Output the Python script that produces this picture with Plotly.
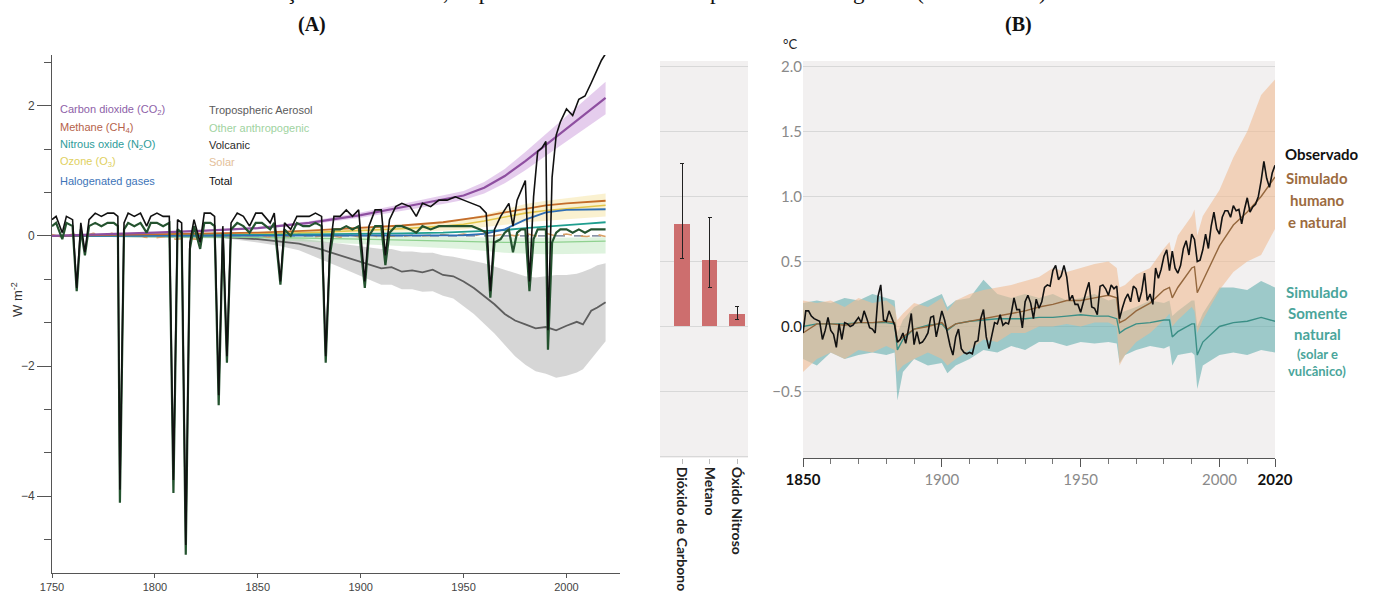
import plotly.graph_objects as go

W, H = 1377, 592
def fx(p): return p / W
def fy(p): return 1 - p / H

# ---------------- Panel A : forcing (W m-2) ----------------
yrs_f = [1750, 1775, 1800, 1825, 1850, 1875, 1900, 1920, 1940, 1950, 1960, 1970, 1980, 1990, 2000, 2010, 2019]
co2    = [0, 0.02, 0.05, 0.08, 0.12, 0.20, 0.32, 0.44, 0.56, 0.62, 0.74, 0.92, 1.15, 1.40, 1.64, 1.90, 2.12]
co2_lo = [0, 0.018, 0.044, 0.07, 0.105, 0.176, 0.28, 0.39, 0.49, 0.55, 0.65, 0.81, 1.01, 1.23, 1.44, 1.67, 1.87]
co2_hi = [0, 0.022, 0.056, 0.09, 0.135, 0.224, 0.36, 0.49, 0.63, 0.69, 0.83, 1.03, 1.29, 1.57, 1.84, 2.13, 2.37]
ch4    = [0, 0.01, 0.02, 0.03, 0.05, 0.08, 0.12, 0.16, 0.21, 0.25, 0.30, 0.36, 0.42, 0.47, 0.50, 0.52, 0.54]
n2o    = [0, 0, 0.005, 0.01, 0.015, 0.02, 0.03, 0.04, 0.05, 0.06, 0.07, 0.09, 0.12, 0.14, 0.16, 0.19, 0.21]
o3     = [0, 0.005, 0.01, 0.02, 0.03, 0.05, 0.08, 0.11, 0.15, 0.18, 0.23, 0.29, 0.35, 0.39, 0.42, 0.45, 0.47]
o3_lo  = [0, 0, 0.005, 0.01, 0.015, 0.03, 0.05, 0.06, 0.08, 0.10, 0.13, 0.17, 0.21, 0.24, 0.26, 0.28, 0.30]
o3_hi  = [0, 0.01, 0.015, 0.03, 0.045, 0.07, 0.11, 0.16, 0.22, 0.26, 0.33, 0.41, 0.49, 0.54, 0.58, 0.62, 0.65]
halo   = [0, 0, 0, 0, 0, 0, 0, 0, 0.005, 0.01, 0.03, 0.10, 0.25, 0.36, 0.40, 0.41, 0.41]

yrs_oth = [1750, 1850, 1900, 1950, 1970, 1990, 2019]
oth    = [0, -0.02, -0.05, -0.08, -0.10, -0.10, -0.08]
oth_hi = [0, 0, -0.01, -0.02, -0.03, -0.03, -0.02]
oth_lo = [0, -0.05, -0.12, -0.20, -0.26, -0.28, -0.27]

yrs_aer = [1750, 1800, 1830, 1850, 1860, 1870, 1880, 1890, 1900, 1905, 1910, 1915, 1920, 1925, 1930, 1935, 1940,
           1945, 1950, 1955, 1960, 1965, 1970, 1975, 1980, 1985, 1990, 1995, 2000, 2005, 2008, 2012, 2015, 2019]
aer    = [0, 0, -0.01, -0.05, -0.08, -0.12, -0.20, -0.30, -0.40, -0.44, -0.50, -0.48, -0.55, -0.53, -0.56, -0.52, -0.60,
          -0.62, -0.70, -0.80, -0.92, -1.05, -1.20, -1.30, -1.36, -1.42, -1.40, -1.45, -1.38, -1.32, -1.36, -1.15, -1.10, -1.02]
aer_hi = [0, 0, 0, -0.01, -0.02, -0.04, -0.08, -0.12, -0.16, -0.18, -0.20, -0.20, -0.24, -0.24, -0.26, -0.26, -0.30,
          -0.32, -0.35, -0.38, -0.42, -0.47, -0.52, -0.58, -0.62, -0.64, -0.62, -0.60, -0.60, -0.58, -0.55, -0.50, -0.45, -0.42]
aer_lo = [0, 0, -0.02, -0.10, -0.15, -0.22, -0.35, -0.48, -0.62, -0.68, -0.75, -0.75, -0.82, -0.82, -0.86, -0.85, -0.92,
          -0.96, -1.08, -1.20, -1.35, -1.50, -1.68, -1.85, -1.98, -2.08, -2.12, -2.18, -2.15, -2.10, -2.05, -1.90, -1.78, -1.62]

yrs_sol = [1750, 1755, 1760, 1765, 1770, 1775, 1780, 1785, 1790, 1795, 1800, 1805, 1810, 1815, 1820, 1825, 1830, 1835,
           1840, 1845, 1850, 1855, 1860, 1865, 1870, 1875, 1880, 1885, 1890, 1895, 1900, 1905, 1910, 1915, 1920, 1925,
           1930, 1935, 1940, 1945, 1950, 1955, 1960, 1965, 1970, 1975, 1980, 1985, 1990, 1995, 2000, 2005, 2010, 2015, 2019]
solar = [0.02, -0.02, 0.03, -0.01, 0.04, 0.0, 0.05, 0.02, 0.04, -0.02, -0.03, -0.01, -0.05, -0.04, -0.05, -0.02, 0.02, -0.01,
         0.03, 0.0, 0.02, -0.02, 0.02, -0.01, 0.03, -0.02, 0.0, 0.01, -0.02, 0.01, -0.02, 0.01, -0.02, 0.0, -0.01, 0.01,
         0.0, 0.01, 0.02, 0.0, 0.03, 0.0, 0.04, 0.0, 0.03, 0.0, 0.04, 0.0, 0.04, 0.0, 0.03, 0.0, -0.01, 0.02, -0.01]

yrs_v = [1750, 1752, 1755, 1757, 1760, 1762, 1764, 1766, 1768, 1771, 1774, 1777, 1780, 1782, 1783, 1785, 1787, 1790,
         1793, 1796, 1798, 1801, 1804, 1807, 1809, 1811, 1813, 1815, 1817, 1819, 1822, 1824, 1827, 1829, 1831, 1833,
         1835, 1837, 1840, 1843, 1846, 1849, 1852, 1856, 1858, 1861, 1863, 1866, 1869, 1872, 1875, 1878, 1881, 1883,
         1885, 1887, 1890, 1893, 1896, 1899, 1902, 1904, 1907, 1910, 1912, 1914, 1917, 1920, 1924, 1927, 1930, 1934,
         1938, 1942, 1946, 1950, 1954, 1958, 1961, 1963, 1965, 1968, 1970, 1972, 1974, 1976, 1978, 1980, 1982, 1984,
         1986, 1988, 1990, 1991, 1992, 1993, 1995, 1997, 2000, 2003, 2006, 2009, 2012, 2015, 2017, 2019]
volc = [0.15, 0.20, -0.05, 0.20, 0.15, -0.85, 0.10, -0.30, 0.15, 0.20, 0.15, 0.20, 0.20, 0.15, -4.10, 0.10, 0.20, 0.15,
        0.20, 0.05, 0.20, 0.20, 0.15, 0.20, -3.95, 0.10, 0.05, -4.90, -0.20, 0.15, -0.20, 0.20, 0.20, 0.15, -2.60, 0.05,
        -1.95, 0.10, 0.20, 0.15, 0.05, 0.20, 0.20, 0.10, 0.20, -0.75, 0.10, 0.0, 0.20, 0.15, 0.15, 0.20, 0.15, -1.95,
        -0.30, 0.10, 0.10, 0.15, 0.10, 0.15, -0.80, 0.0, 0.15, 0.15, -0.45, 0.05, 0.15, 0.15, 0.10, 0.05, 0.15, 0.10,
        0.15, 0.15, 0.15, 0.15, 0.15, 0.10, 0.05, -0.95, -0.10, -0.05, 0.05, 0.10, -0.25, 0.05, 0.10, 0.10, -0.85, -0.05,
        0.10, 0.10, 0.10, -1.75, -0.80, -0.10, 0.05, 0.10, 0.10, 0.05, 0.10, 0.05, 0.10, 0.10, 0.10, 0.10]
total = [0.25, 0.30, 0.05, 0.30, 0.25, -0.80, 0.20, -0.25, 0.25, 0.35, 0.30, 0.35, 0.35, 0.30, -3.90, 0.20, 0.35, 0.30,
         0.35, 0.15, 0.30, 0.35, 0.30, 0.30, -3.75, 0.25, 0.20, -4.75, -0.10, 0.25, -0.10, 0.35, 0.35, 0.30, -2.45, 0.15,
         -1.85, 0.20, 0.35, 0.30, 0.15, 0.35, 0.35, 0.20, 0.35, -0.70, 0.20, 0.10, 0.30, 0.30, 0.30, 0.35, 0.30, -1.85,
         -0.20, 0.30, 0.30, 0.40, 0.30, 0.40, -0.70, 0.15, 0.40, 0.40, -0.30, 0.25, 0.45, 0.50, 0.45, 0.30, 0.50, 0.45,
         0.55, 0.55, 0.60, 0.55, 0.50, 0.45, 0.35, -0.85, 0.10, 0.30, 0.40, 0.50, 0.15, 0.55, 0.70, 0.85, -0.70, 0.60,
         1.30, 1.35, 1.45, -1.45, -0.30, 0.90, 1.55, 1.75, 1.95, 1.85, 2.10, 2.15, 2.35, 2.55, 2.70, 2.80]

# ---------------- Bars ----------------
gases = ["Dióxido de Carbono", "Metano", "Óxido Nitroso"]
gas_val = [0.79, 0.51, 0.095]
gas_lo = [0.52, 0.30, 0.05]
gas_hi = [1.25, 0.84, 0.155]

# ---------------- Panel B : temperature (°C) ----------------
yrs_obs = list(range(1850, 2021))
obs = [-0.05, 0.12, 0.12, 0.08, 0.06, 0.05, 0.04, -0.10, -0.03, 0.07,
       -0.03, -0.06, -0.16, 0.02, -0.10, 0.03, 0.02, 0.00, 0.01, 0.04,
       0.07, 0.03, 0.12, 0.06, -0.01, -0.02, -0.05, 0.23, 0.32, 0.05,
       0.04, 0.12, 0.06, 0.01, -0.12, -0.10, -0.05, -0.13, -0.02, 0.10,
       -0.14, -0.04, -0.13, -0.12, -0.09, -0.05, 0.07, 0.08, -0.08, 0.01,
       0.12, 0.05, -0.05, -0.15, -0.22, -0.08, -0.02, -0.17, -0.20, -0.21,
       -0.20, -0.21, -0.12, -0.11, 0.06, 0.13, -0.08, -0.17, -0.07, 0.03,
       0.02, 0.09, 0.01, 0.03, 0.02, 0.10, 0.22, 0.13, 0.13, -0.01,
       0.19, 0.24, 0.18, 0.06, 0.21, 0.14, 0.19, 0.30, 0.32, 0.31,
       0.43, 0.47, 0.36, 0.39, 0.47, 0.38, 0.20, 0.24, 0.17, 0.17,
       0.11, 0.20, 0.27, 0.34, 0.15, 0.14, 0.09, 0.31, 0.32, 0.29,
       0.24, 0.32, 0.29, 0.31, 0.06, 0.14, 0.21, 0.25, 0.19, 0.31,
       0.29, 0.19, 0.27, 0.41, 0.20, 0.25, 0.17, 0.45, 0.37, 0.44,
       0.54, 0.59, 0.43, 0.58, 0.45, 0.41, 0.47, 0.60, 0.66, 0.55,
       0.71, 0.67, 0.50, 0.51, 0.59, 0.71, 0.60, 0.77, 0.88, 0.75,
       0.71, 0.84, 0.89, 0.89, 0.84, 0.93, 0.89, 0.90, 0.79, 0.90,
       0.99, 0.88, 0.92, 0.94, 1.00, 1.12, 1.27, 1.14, 1.07, 1.18,
       1.24]

yrs_sim = [1850, 1855, 1860, 1865, 1870, 1875, 1880, 1883, 1884, 1886, 1890, 1895, 1900, 1902, 1905, 1910, 1915, 1920,
           1925, 1930, 1935, 1940, 1945, 1950, 1955, 1960, 1963, 1964, 1966, 1970, 1975, 1980, 1982, 1983, 1985, 1990,
           1991, 1992, 1994, 2000, 2005, 2010, 2015, 2020]
hum    = [-0.05, 0.02, 0.02, 0.01, 0.03, 0.03, 0.04, 0.03, -0.12, -0.08, -0.02, 0.0, 0.03, -0.02, 0.02, 0.04, 0.06, 0.08,
          0.10, 0.12, 0.15, 0.17, 0.20, 0.20, 0.22, 0.24, 0.22, 0.03, 0.05, 0.12, 0.18, 0.28, 0.30, 0.22, 0.30, 0.45,
          0.46, 0.26, 0.35, 0.62, 0.78, 0.88, 1.00, 1.15]
hum_hi = [0.20, 0.18, 0.20, 0.15, 0.22, 0.18, 0.20, 0.15, 0.05, 0.10, 0.18, 0.15, 0.22, 0.12, 0.20, 0.25, 0.28, 0.30,
          0.32, 0.35, 0.38, 0.45, 0.42, 0.45, 0.48, 0.50, 0.45, 0.30, 0.32, 0.40, 0.45, 0.60, 0.65, 0.55, 0.70, 0.85,
          0.90, 0.70, 0.85, 1.05, 1.30, 1.50, 1.78, 1.90]
hum_lo = [-0.35, -0.25, -0.20, -0.25, -0.18, -0.20, -0.15, -0.18, -0.35, -0.30, -0.25, -0.20, -0.25, -0.30, -0.25, -0.18,
          -0.10, -0.12, -0.05, -0.05, 0.0, 0.0, 0.02, 0.0, 0.03, 0.03, 0.0, -0.30, -0.22, -0.12, -0.05, 0.05, 0.10, 0.0,
          0.05, 0.15, 0.12, -0.05, 0.05, 0.28, 0.42, 0.50, 0.55, 0.75]
nat    = [0.0, 0.02, 0.02, 0.02, 0.03, 0.03, 0.03, 0.02, -0.18, -0.10, -0.02, 0.01, 0.02, -0.03, 0.02, 0.04, 0.05, 0.06,
          0.06, 0.06, 0.07, 0.07, 0.08, 0.09, 0.08, 0.08, 0.06, -0.05, -0.02, 0.02, 0.03, 0.05, 0.05, -0.08, -0.04, 0.02,
          0.02, -0.22, -0.12, 0.0, 0.03, 0.04, 0.07, 0.04]
nat_hi = [0.18, 0.20, 0.18, 0.22, 0.20, 0.25, 0.22, 0.20, -0.05, 0.05, 0.15, 0.20, 0.25, 0.15, 0.20, 0.22, 0.36, 0.25,
          0.22, 0.25, 0.22, 0.25, 0.20, 0.22, 0.25, 0.20, 0.22, 0.10, 0.12, 0.15, 0.20, 0.18, 0.20, 0.08, 0.12, 0.20,
          0.20, 0.0, 0.10, 0.30, 0.30, 0.28, 0.35, 0.30]
nat_lo = [-0.25, -0.30, -0.20, -0.25, -0.22, -0.20, -0.22, -0.20, -0.57, -0.35, -0.25, -0.30, -0.28, -0.36, -0.30, -0.25,
          -0.18, -0.20, -0.15, -0.18, -0.12, -0.12, -0.15, -0.12, -0.13, -0.12, -0.13, -0.28, -0.22, -0.18, -0.15, -0.17,
          -0.15, -0.30, -0.22, -0.20, -0.22, -0.48, -0.30, -0.22, -0.20, -0.22, -0.18, -0.20]

fig = go.Figure()

def band(xs, lo, hi, color, xa, ya):
    fig.add_trace(go.Scatter(x=xs + xs[::-1], y=hi + lo[::-1], fill="toself", fillcolor=color,
                             line=dict(width=0), mode="lines", hoverinfo="skip", xaxis=xa, yaxis=ya))

def line(xs, ys, color, width, xa, ya, dash=None):
    fig.add_trace(go.Scatter(x=xs, y=ys, mode="lines", line=dict(color=color, width=width, dash=dash),
                             xaxis=xa, yaxis=ya))

# Panel A traces
band(yrs_aer, aer_lo, aer_hi, "rgba(200,200,200,0.75)", "x", "y")
band(yrs_oth, oth_lo, oth_hi, "rgba(160,220,160,0.35)", "x", "y")
band(yrs_f, o3_lo, o3_hi, "rgba(240,215,120,0.35)", "x", "y")
band(yrs_f, co2_lo, co2_hi, "rgba(190,130,210,0.40)", "x", "y")
line(yrs_aer, aer, "#5e5e5e", 1.8, "x", "y")
line(yrs_oth, oth, "#8fd18f", 1.4, "x", "y")
line(yrs_f, o3, "#e3c64a", 1.6, "x", "y")
line(yrs_sol, solar, "#d9a066", 1.6, "x", "y", dash="dash")
line(yrs_f, n2o, "#1f9e8f", 1.8, "x", "y")
line(yrs_f, halo, "#2f6fb5", 1.8, "x", "y")
line(yrs_f, ch4, "#c46d2a", 1.8, "x", "y")
line(yrs_f, co2, "#8e4fa0", 2.2, "x", "y")
line(yrs_v, volc, "#24532f", 2.2, "x", "y")
line(yrs_v, total, "#111111", 1.6, "x", "y")

# Bars
fig.add_trace(go.Bar(x=gases, y=gas_val, marker=dict(color="#cd6e6e", line=dict(width=0)), width=0.58,
                     error_y=dict(type="data", symmetric=False,
                                  array=[h - v for h, v in zip(gas_hi, gas_val)],
                                  arrayminus=[v - l for v, l in zip(gas_val, gas_lo)],
                                  color="#222", thickness=1, width=2),
                     xaxis="x2", yaxis="y2"))

# Panel B traces
band(yrs_sim, nat_lo, nat_hi, "rgba(100,175,175,0.60)", "x3", "y3")
band(yrs_sim, hum_lo, hum_hi, "rgba(240,188,148,0.60)", "x3", "y3")
line(yrs_sim, nat, "#3b8f86", 1.4, "x3", "y3")
line(yrs_sim, hum, "#94673d", 1.4, "x3", "y3")
line(yrs_obs, obs, "#111111", 1.6, "x3", "y3")

dom_y_bc = [fy(458), fy(61)]
yr_bc = [-1.0115, 2.042]

fig.update_layout(
    template="none", width=W, height=H, margin=dict(l=0, r=0, t=0, b=0),
    paper_bgcolor="white", plot_bgcolor="white", showlegend=False, bargap=0,
    xaxis=dict(domain=[fx(52), fx(620)], range=[1750, 2026], tickvals=[1750, 1800, 1850, 1900, 1950, 2000],
               ticks="outside", ticklen=4, tickcolor="#555", showline=True, linecolor="#555", linewidth=1,
               showgrid=False, zeroline=False, anchor="y", automargin=False,
               tickfont=dict(family="Liberation Sans, Arial", size=11, color="#444")),
    yaxis=dict(domain=[fy(573), fy(55)], range=[-5.18, 2.78], tick0=0, dtick=2,
               ticks="outside", ticklen=14, tickcolor="#555", showline=True, linecolor="#555", linewidth=1,
               minor=dict(dtick=2/3, tick0=0, ticks="outside", ticklen=7, tickcolor="#555"),
               showgrid=False, zeroline=False, anchor="x", automargin=False,
               tickfont=dict(family="Liberation Sans, Arial", size=12, color="#444")),
    xaxis2=dict(domain=[fx(660), fx(748)], type="category", range=[-0.8, 2.4], tickangle=90,
                ticks="outside", ticklen=5, tickcolor="#bbbbbb", showline=False, showgrid=False, zeroline=False,
                anchor="y2", automargin=False,
                tickfont=dict(family="Lato", size=14, color="#222", weight="bold")),
    yaxis2=dict(domain=dom_y_bc, range=yr_bc, tickvals=[-1, -0.5, 0, 0.5, 1, 1.5, 2], showticklabels=False,
                ticks="", showgrid=True, gridcolor="#d8d8d8", gridwidth=1, zeroline=False, showline=False,
                anchor="x2", automargin=False),
    xaxis3=dict(domain=[fx(803), fx(1275)], range=[1850, 2020], tickvals=[1850, 1900, 1950, 2000, 2020],
                ticktext=["<b>1850</b>", "<span style='color:#8a8a8a'>1900</span>",
                          "<span style='color:#8a8a8a'>1950</span>", "<span style='color:#8a8a8a'>2000</span>",
                          "<b>2020</b>"],
                ticks="outside", ticklen=8, tickcolor="#555",
                minor=dict(dtick=10, tick0=1850, ticks="outside", ticklen=5, tickcolor="#777"),
                showline=True, linecolor="#555", linewidth=1, showgrid=False, zeroline=False,
                anchor="y3", automargin=False,
                tickfont=dict(family="Lato", size=15, color="#111")),
    yaxis3=dict(domain=dom_y_bc, range=yr_bc, tickvals=[-0.5, 0, 0.5, 1, 1.5, 2],
                ticktext=["−0.5", "<span style='color:#222'>0.0</span>", "0.5", "1.0", "1.5", "2.0"],
                ticks="", showgrid=True, gridcolor="#d8d8d8", gridwidth=1, zeroline=False, showline=False,
                anchor="x3", automargin=False,
                tickfont=dict(family="Lato", size=15, color="#8a8a8a")),
    shapes=[
        dict(type="rect", xref="x2 domain", yref="y2 domain", x0=0, x1=1, y0=0, y1=1,
             fillcolor="#f2f0f0", line=dict(width=0), layer="below"),
        dict(type="rect", xref="x3 domain", yref="y3 domain", x0=0, x1=1, y0=0, y1=1,
             fillcolor="#f2f0f0", line=dict(width=0), layer="below"),
        dict(type="line", xref="x", yref="y", x0=yrs_f[0], x1=yrs_f[-1], y0=0, y1=0,
             line=dict(color="#3a4a6a", width=1, dash="dash"), layer="below"),
    ],
)

ann = []
def A(text, x, y, size, color, family="Liberation Sans, Arial", xanchor="left", angle=0, yanchor="middle"):
    ann.append(dict(text=text, x=fx(x), y=fy(y), xref="paper", yref="paper", showarrow=False,
                    xanchor=xanchor, yanchor=yanchor, textangle=angle,
                    font=dict(family=family, size=size, color=color)))

# caption cut off at the top edge (only its lowest part shows, as in the reference)
A("Evolução das emissões, impacto no aumento da temperatura média global (1750 – 2020)", 229, 6, 23, "#111",
  family="Liberation Serif, Times New Roman", yanchor="bottom")
A("<b>(A)</b>", 312, 25, 20, "#111", family="Liberation Serif, Times New Roman", xanchor="center")
A("<b>(B)</b>", 1018, 25, 20, "#111", family="Liberation Serif, Times New Roman", xanchor="center")
A("W m<sup>-2</sup>", 17, 300, 13, "#333", xanchor="center", angle=-90)

legend_left = [("Carbon dioxide (CO<sub>2</sub>)", "#8e5fa8"), ("Methane (CH<sub>4</sub>)", "#b5624a"),
               ("Nitrous oxide (N<sub>2</sub>O)", "#2e9c9a"), ("Ozone (O<sub>3</sub>)", "#e0d060"),
               ("Halogenated gases", "#3d74b8")]
legend_right = [("Tropospheric Aerosol", "#5a5a5a"), ("Other anthropogenic", "#9fd39f"),
                ("Volcanic", "#2a2a2a"), ("Solar", "#e3c09a"), ("Total", "#111111")]
rows = [110, 128, 145, 162, 181]
for (t, c), yy in zip(legend_left, rows):
    A(t, 58, yy, 11, c)
for (t, c), yy in zip(legend_right, rows):
    A(t, 207, yy, 11, c)

A("°C", 790, 44, 13, "#222", family="Lato", xanchor="center")
A("<b>Observado</b>", 1283, 154, 15, "#111", family="Lato")
for t, yy in [("Simulado", 178), ("humano", 200), ("e natural", 222)]:
    A("<b>" + t + "</b>", 1317, yy, 15, "#9c6b3e", family="Lato", xanchor="center")
for t, yy, s in [("Simulado", 292, 15), ("Somente", 313, 15), ("natural", 334, 15),
                 ("(solar e", 354, 13), ("vulcânico)", 371, 13)]:
    A("<b>" + t + "</b>", 1317, yy, s, "#4aa59b", family="Lato", xanchor="center")

fig.update_layout(annotations=ann)
fig.write_html("out.html")
